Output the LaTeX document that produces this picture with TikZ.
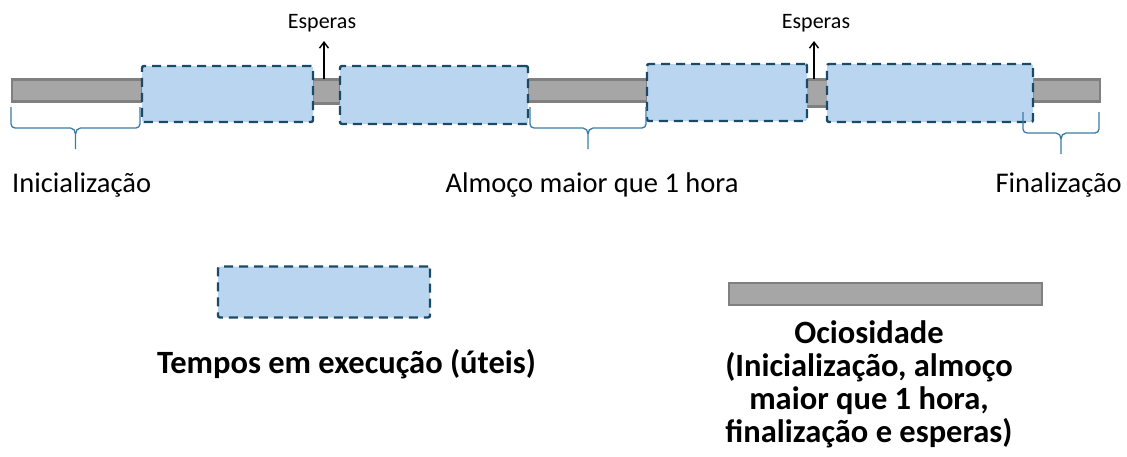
\documentclass[tikz,border=0pt]{standalone}
\usepackage{fontspec}
\setmainfont{Carlito}
\usepackage{tikz}
\usetikzlibrary{arrows.meta}

\definecolor{ocio}{HTML}{A6A6A6}
\definecolor{ocioborda}{HTML}{808080}
\definecolor{util}{HTML}{BAD5F0}
\definecolor{utilborda}{HTML}{1B4A66}
\definecolor{chave}{HTML}{3A7CA5}

\begin{document}
\begin{tikzpicture}
    [x=1pt,y=-1pt,>={Straight Barb[length=6pt,width=9pt]},
      idle/.style={rectangle,fill=ocio,draw=ocioborda,line width=2.2pt,inner sep=0pt},
      exec/.style={rectangle,rounded corners=2pt,fill=util,draw=utilborda,line width=2.4pt,
        dash pattern=on 9pt off 6pt,inner sep=0pt},
      brace/.style={draw=chave,line width=1.3pt},
      label/.style={font=\fontsize{28.5}{30}\selectfont,inner sep=0pt,anchor=base},
      small/.style={font=\fontsize{22}{24}\selectfont,inner sep=0pt,anchor=base},
      legend/.style={font=\fontsize{32.5}{33.3}\selectfont\bfseries,align=center,inner sep=0pt}]
    \useasboundingbox (0,0) rectangle (1127,456);

      % barras de ociosidade
      \node[idle,minimum width=130pt,minimum height=22pt] (o1) at (77,90.5) {};
      \node[idle,minimum width=27pt,minimum height=24pt] (o2) at (326.5,91.5) {};
      \node[idle,minimum width=119pt,minimum height=22pt] (o3) at (587.5,90.5) {};
      \node[idle,minimum width=22pt,minimum height=27pt] (o4) at (817,93) {};
      \node[idle,minimum width=67pt,minimum height=22pt] (o5) at (1066.5,90.5) {};

      % tempos em execucao
      \node[exec,minimum width=171pt,minimum height=56pt] (e1) at (227.5,94) {};
      \node[exec,minimum width=188pt,minimum height=58pt] (e2) at (434,95) {};
      \node[exec,minimum width=160pt,minimum height=57pt] (e3) at (727,92.5) {};
      \node[exec,minimum width=206pt,minimum height=58pt] (e4) at (930,93) {};

      % esperas
      \node[small] (esp1) at (322,28) {Esperas};
      \node[small] (esp2) at (816,28) {Esperas};
      \coordinate (w1) at (324,79);
      \coordinate (w2) at (814,79);
      \coordinate (p1) at (324,41);
      \coordinate (p2) at (814,41);
      \foreach \from/\to in {w1/p1,w2/p2}
        \draw[->,line width=1.4pt] (\from) -- (\to);

      % chaves
      \foreach \xa/\xb/\ya in {11/140/107, 530/646/107, 1023/1099/112}{
        \pgfmathsetmacro\xc{(\xa+\xb)/2}
        \draw[brace] (\xa,\ya) -- (\xa,\ya+17) to[out=-90,in=180] (\xa+4,\ya+21)
          -- (\xc-5,\ya+21) to[out=0,in=90] (\xc,\ya+27) -- (\xc,\ya+42);
        \draw[brace] (\xc,\ya+27) to[out=90,in=180] (\xc+5,\ya+21)
          -- (\xb-4,\ya+21) to[out=0,in=-90] (\xb,\ya+17) -- (\xb,\ya);
      }

      \node[label,anchor=base west] (ini) at (12,192) {Inicialização};
      \node[label] (alm) at (592,192) {Almoço maior que 1 hora};
      \node[label,anchor=base east] (fin) at (1122,192) {Finalização};

      % legenda
      \node[exec,minimum width=212pt,minimum height=51pt] (legexec) at (324,292) {};
      \node[idle,minimum width=313pt,minimum height=22pt] (legidle) at (885.5,294) {};
      \node[legend,anchor=base] (txtexec) at (346.5,373) {Tempos em execução (úteis)};
      \node[legend,anchor=north] (txtidle) at (869,320)
        {Ociosidade\\(Inicialização, almoço\\maior que 1 hora,\\finalização e esperas)};
    \end{tikzpicture}
\end{document}
